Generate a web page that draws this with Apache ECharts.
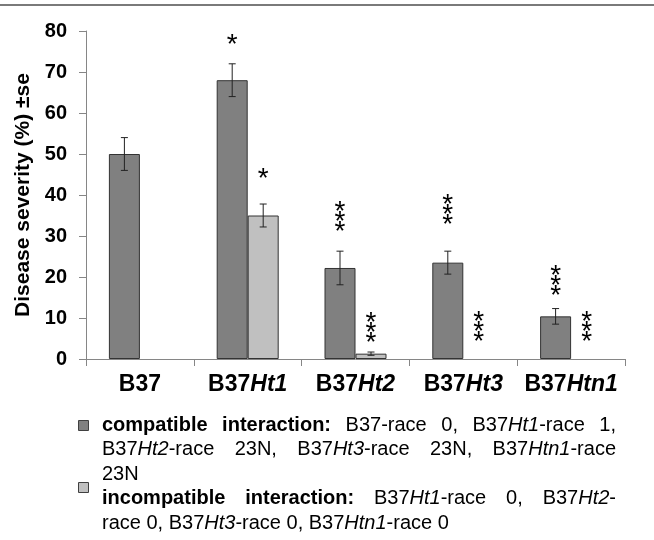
<!DOCTYPE html>
<html>
<head>
<meta charset="utf-8">
<script src="https://cdn.jsdelivr.net/npm/echarts@6/dist/echarts.min.js"></script>
<style>
  html, body { margin: 0; padding: 0; background: #fff; }
  #chart { width: 654px; height: 540px; }
</style>
</head>
<body>
<div id="chart"></div>
<script>
// data
var categories = ['B37', 'B37Ht1', 'B37Ht2', 'B37Ht3', 'B37Htn1']
var compatible = [50, 68, 22.2, 23.5, 10.4]
var compatibleSe = [4, 4, 4.1, 2.8, 1.9]
var compatibleSig = ['', '*', '***', '***', '***']
var compatibleSigAt = [null, 77.1, 31.5, 33.2, 15.7]
var incompatible = [null, 35, 1.3, 0, 0]
var incompatibleSe = [0, 2.8, 0.4, 0, 0]
var incompatibleSig = ['', '*', '***', '***', '***']
var incompatibleSigAt = [null, 44.2, 4.3, 4.5, 4.5]
var yTicks = { min: 0, max: 80, interval: 10 }

var FONT = '"Liberation Sans", Arial, sans-serif'
var DARK = '#808080'
var LIGHT = '#c0c0c0'
var BAR_W = 31

var chart = echarts.init(document.getElementById('chart'), null, { renderer: 'canvas' })

// zero-height bars should not leave a border stroke on the axis
function barData(values) {
  return values.map(function(v) {
    if (v === 0) return { value: 0, itemStyle: { borderWidth: 0 } }
    return v == null ? '-' : v
  })
}

// error bars + significance stars, drawn on top of a bar series
function errorSeries(values, se, sig, sigAt, offset) {
  return {
    type: 'custom',
    z: 5,
    silent: true,
    data: values.map(function(v, i) {
      return [i, v == null ? 0 : v, se[i], sigAt[i] == null ? 0 : sigAt[i]]
    }),
    encode: { x: 0, y: 1 },
    renderItem: function(params, api) {
      var idx = api.value(0)
      var v = api.value(1)
      var e = api.value(2)
      var cx = api.coord([idx, 0])[0] + offset
      var children = []
      if (e > 0) {
        var yTop = api.coord([idx, v + e])[1]
        var yBot = api.coord([idx, v - e])[1]
        var st = { stroke: '#222', lineWidth: 1 }
        children.push({ type: 'line', shape: { x1: cx, y1: yTop, x2: cx, y2: yBot }, style: st })
        children.push({ type: 'line', shape: { x1: cx - 3.5, y1: yTop, x2: cx + 3.5, y2: yTop }, style: st })
        children.push({ type: 'line', shape: { x1: cx - 3.5, y1: yBot, x2: cx + 3.5, y2: yBot }, style: st })
      }
      var s = sig[params.dataIndex]
      if (s) {
        var ys = api.coord([idx, api.value(3)])[1]
        children.push({
          type: 'text',
          x: cx,
          y: ys + 7,
          style: {
            text: s.split('').join('\n'),
            font: '28px ' + FONT,
            lineHeight: 10,
            align: 'center',
            verticalAlign: 'bottom',
            fill: '#000'
          }
        })
      }
      return { type: 'group', children: children }
    }
  }
}

// legend text (justified paragraph like the original)
var legendLines = [
  { justify: true, segs: [['b', 'compatible interaction:'], ['n', ' B37-race 0, B37'], ['i', 'Ht1'], ['n', '-race 1,']] },
  { justify: true, segs: [['n', 'B37'], ['i', 'Ht2'], ['n', '-race 23N, B37'], ['i', 'Ht3'], ['n', '-race 23N, B37'], ['i', 'Htn1'], ['n', '-race']] },
  { justify: false, segs: [['n', '23N']] },
  { justify: true, segs: [['b', 'incompatible interaction:'], ['n', ' B37'], ['i', 'Ht1'], ['n', '-race 0, B37'], ['i', 'Ht2'], ['n', '-']] },
  { justify: false, segs: [['n', 'race 0, B37'], ['i', 'Ht3'], ['n', '-race 0, B37'], ['i', 'Htn1'], ['n', '-race 0']] }
]
var legendFonts = {
  n: '20px ' + FONT,
  b: 'bold 20px ' + FONT,
  i: 'italic 20px ' + FONT
}
var legendRich = {
  n: { font: legendFonts.n, fill: '#000' },
  b: { font: legendFonts.b, fill: '#000' },
  i: { font: legendFonts.i, fill: '#000' }
}

function buildLegend() {
  var ctx = document.createElement('canvas').getContext('2d')
  function width(style, txt) {
    ctx.font = legendFonts[style]
    return ctx.measureText(txt).width
  }
  var left = 102
  var boxW = 514
  var top = 425
  var pitch = 24.5
  var els = []
  legendLines.forEach(function(line, li) {
    var words = [[]]
    line.segs.forEach(function(seg) {
      seg[1].split(' ').forEach(function(part, k) {
        if (k > 0) words.push([])
        if (part) words[words.length - 1].push([seg[0], part])
      })
    })
    words = words.filter(function(w) { return w.length })
    var widths = words.map(function(w) {
      return w.reduce(function(acc, p) { return acc + width(p[0], p[1]) }, 0)
    })
    var total = widths.reduce(function(a, b) { return a + b }, 0)
    var gap = line.justify && words.length > 1 ? (boxW - total) / (words.length - 1) : width('n', ' ')
    var x = left
    words.forEach(function(w, k) {
      els.push({
        type: 'text',
        x: x,
        y: top + li * pitch,
        silent: true,
        style: {
          text: w.map(function(p) { return '{' + p[0] + '|' + p[1] + '}' }).join(''),
          rich: legendRich,
          verticalAlign: 'middle',
          align: 'left'
        }
      })
      x += widths[k] + gap
    })
  })
  els.push({ type: 'rect', shape: { x: 78.5, y: 420.5, width: 10, height: 10 }, style: { fill: DARK, stroke: '#404040', lineWidth: 1 } })
  els.push({ type: 'rect', shape: { x: 78.5, y: 482.5, width: 10, height: 10 }, style: { fill: LIGHT, stroke: '#404040', lineWidth: 1 } })
  els.push({ type: 'line', shape: { x1: 0, y1: 5, x2: 654, y2: 5 }, style: { stroke: '#7a7a7a', lineWidth: 2 } })
  return els
}

chart.setOption({
  animation: false,
  grid: { left: 86, right: 29, top: 31, bottom: 181 },
  xAxis: {
    type: 'category',
    data: categories,
    axisLine: { lineStyle: { color: '#868686', width: 1 } },
    axisTick: { show: true, length: 7, lineStyle: { color: '#868686' } },
    axisLabel: {
      margin: 14,
      formatter: function(value) {
        var rest = value.slice(3)
        return '{b|B37}' + (rest ? '{i|' + rest + '}' : '')
      },
      rich: {
        b: { fontFamily: FONT, fontSize: 23, fontWeight: 'bold', color: '#000' },
        i: { fontFamily: FONT, fontSize: 23, fontWeight: 'bold', fontStyle: 'italic', color: '#000' }
      }
    }
  },
  yAxis: {
    type: 'value',
    min: yTicks.min,
    max: yTicks.max,
    interval: yTicks.interval,
    name: 'Disease severity (%) ±se',
    nameLocation: 'middle',
    nameGap: 45,
    nameRotate: 90,
    nameTextStyle: { fontFamily: FONT, fontSize: 21, fontWeight: 'bold', color: '#000' },
    axisLine: { show: true, lineStyle: { color: '#868686', width: 1 } },
    axisTick: { show: true, length: 7, lineStyle: { color: '#868686' } },
    splitLine: { show: false },
    axisLabel: { margin: 19, fontFamily: FONT, fontSize: 20, fontWeight: 'bold', color: '#000' }
  },
  series: [
    {
      type: 'bar',
      name: 'compatible',
      data: barData(compatible),
      barWidth: BAR_W,
      barGap: '0%',
      itemStyle: { color: DARK, borderColor: '#333', borderWidth: 1 }
    },
    {
      type: 'bar',
      name: 'incompatible',
      data: barData(incompatible),
      barWidth: BAR_W,
      barGap: '0%',
      itemStyle: { color: LIGHT, borderColor: '#333', borderWidth: 1 }
    },
    errorSeries(compatible, compatibleSe, compatibleSig, compatibleSigAt, -BAR_W / 2),
    errorSeries(incompatible, incompatibleSe, incompatibleSig, incompatibleSigAt, BAR_W / 2)
  ],
  graphic: buildLegend()
})
</script>
</body>
</html>
